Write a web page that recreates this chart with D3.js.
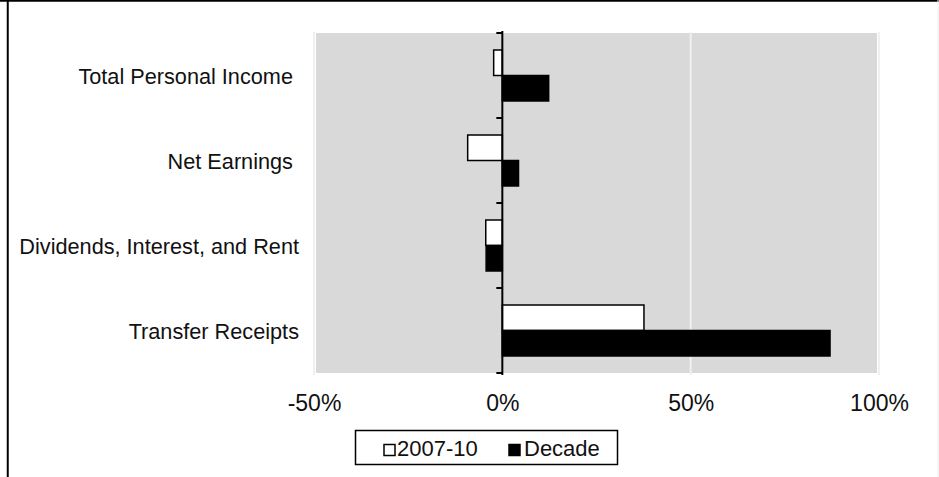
<!DOCTYPE html>
<html>
<head>
<meta charset="utf-8">
<script src="https://cdn.jsdelivr.net/npm/d3@7"></script>
<style>
  html, body { margin: 0; padding: 0; background: #fff; }
  svg { display: block; font-family: "Liberation Sans", Arial, sans-serif; }
  text { white-space: pre; }
</style>
</head>
<body>
<svg id="chart" width="939" height="477"></svg>
<script>
// Percent change in personal income components
const categories = ["Total Personal Income ", "Net Earnings ", "Dividends, Interest, and Rent", "Transfer Receipts"];
const seriesNames = ["2007-10", "Decade"];
const change2007to10 = [-2.3, -9.2, -4.4, 37.6];
const changeDecade = [12.3, 4.3, -4.3, 87.0];
const tickValues = [-50, 0, 50, 100];
const tickLabels = ["-50%", "0%", "50%", "100%"];

const seriesValues = [change2007to10, changeDecade];
const seriesFill = ["#ffffff", "#000000"];

const svg = d3.select("#chart");

// outer frame
svg.append("line").attr("x1", 0).attr("x2", 939).attr("y1", 0.75).attr("y2", 0.75)
  .attr("stroke", "#000").attr("stroke-width", 2);
svg.append("line").attr("x1", 7.75).attr("x2", 7.75).attr("y1", 0).attr("y2", 477)
  .attr("stroke", "#000").attr("stroke-width", 2);
svg.append("line").attr("x1", 938).attr("x2", 938).attr("y1", 0).attr("y2", 477)
  .attr("stroke", "#ececec").attr("stroke-width", 1);

const x = d3.scaleLinear().domain([-50, 100]).range([314, 879]);
const y = d3.scaleBand().domain(categories).range([33, 373]).padding(0);
const ySub = d3.scaleBand().domain(seriesNames).range([0, y.bandwidth()])
  .paddingInner(0).paddingOuter(0.667);

// plot area
svg.append("rect")
  .attr("x", x(-50) + 2).attr("y", y.range()[0])
  .attr("width", x(100) - x(-50) - 4).attr("height", y.range()[1] - y.range()[0])
  .attr("fill", "#d9d9d9");

// vertical gridlines
svg.append("g").selectAll("line")
  .data(tickValues.filter(v => v !== 0))
  .join("line")
  .attr("x1", d => x(d)).attr("x2", d => x(d))
  .attr("y1", y.range()[0] - 1).attr("y2", y.range()[1] + 2)
  .attr("stroke", "#f0f0f0").attr("stroke-width", 2);

// bars
const rows = categories.map((c, i) => ({ c, vals: seriesNames.map((s, j) => ({ s, j, v: seriesValues[j][i] })) }));
const groups = svg.append("g").selectAll("g")
  .data(rows).join("g")
  .attr("transform", d => `translate(0,${y(d.c)})`);
groups.selectAll("rect")
  .data(d => d.vals)
  .join("rect")
  .attr("x", d => Math.min(x(0), x(d.v)))
  .attr("width", d => Math.abs(x(d.v) - x(0)))
  .attr("y", d => ySub(d.s))
  .attr("height", ySub.bandwidth())
  .attr("fill", d => seriesFill[d.j])
  .attr("stroke", "#000").attr("stroke-width", 1.5);

// category axis at zero
const yAxis = d3.axisLeft(y).tickSize(0).tickFormat("");
const ag = svg.append("g").attr("transform", `translate(${x(0)},0)`).call(yAxis);
ag.select(".domain").attr("stroke", "#000").attr("stroke-width", 2)
  .attr("d", `M0,${y.range()[0] - 2}V${y.range()[1] + 2}`);
// ticks between categories
const boundaries = categories.map(c => y(c)).concat([y.range()[1]]);
ag.selectAll("line.sep").data(boundaries).join("line").attr("class", "sep")
  .attr("x1", -6).attr("x2", 0).attr("y1", d => d).attr("y2", d => d)
  .attr("stroke", "#000").attr("stroke-width", 2);

// category labels
svg.append("g").selectAll("text")
  .data(categories).join("text")
  .attr("x", 299).attr("y", d => y(d) + y.bandwidth() / 2 + 8)
  .attr("text-anchor", "end")
  .attr("font-size", 21.7).attr("fill", "#111")
  .text(d => d);

// value axis labels
const xAxis = d3.axisBottom(x).tickValues(tickValues).tickSize(0)
  .tickFormat((d, i) => tickLabels[i]);
const xg = svg.append("g").attr("transform", `translate(0,${y.range()[1]})`).call(xAxis);
xg.select(".domain").remove();
xg.selectAll("text").attr("font-size", 23).attr("fill", "#111")
  .attr("font-family", "\"Liberation Sans\", Arial, sans-serif")
  .attr("dy", 0).attr("y", 38);

// legend
const lg = svg.append("g");
lg.append("rect").attr("x", 355.5).attr("y", 430.5).attr("width", 262).attr("height", 34)
  .attr("fill", "#fff").attr("stroke", "#000").attr("stroke-width", 1.5);
const legendItems = [{ name: seriesNames[0], fill: seriesFill[0], sx: 384, tx: 397 },
                     { name: seriesNames[1], fill: seriesFill[1], sx: 509, tx: 524 }];
legendItems.forEach(it => {
  lg.append("rect").attr("x", it.sx).attr("y", 444.5).attr("width", 11).attr("height", 11)
    .attr("fill", it.fill).attr("stroke", "#000").attr("stroke-width", 1.5);
  lg.append("text").attr("x", it.tx).attr("y", 456).attr("font-size", 22).attr("fill", "#111")
    .text(it.name);
});
</script>
</body>
</html>
